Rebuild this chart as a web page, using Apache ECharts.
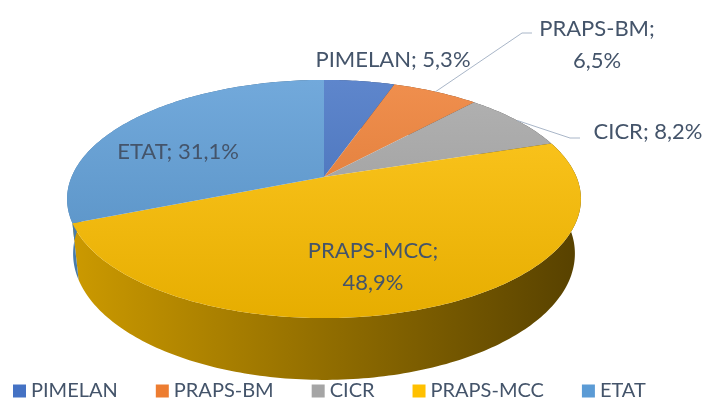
<!DOCTYPE html>
<html>
<head>
<meta charset="utf-8">
<script src="https://cdn.jsdelivr.net/npm/echarts@6/dist/echarts.min.js"></script>
<style>
  html, body { margin: 0; padding: 0; background: #fff; }
  #chart { width: 708px; height: 401px; }
</style>
</head>
<body>
<div id="chart"></div>
<script>
// data
const categories = ['PIMELAN', 'PRAPS-BM', 'CICR', 'PRAPS-MCC', 'ETAT']
const shares = [5.3, 6.5, 8.2, 48.9, 31.1]
const colors = ['#4472C4', '#ED7D31', '#A5A5A5', '#FFC000', '#5B9BD5']

// layout of the 3d pie (perspective camera) and of the labels
const view = { cx: 324, cy: 177, f: 1216, dist: 4.816, tilt: 27.1 * Math.PI / 180, height: 0.245 }
const labelAt = [[393, 60], [597, 45], [648, 132], [373, 267], [178, 152]]
const labelBreak = [false, true, false, true, false]
const elbowAt = [null, [522, 33], [570, 138], null, null]
const textColor = '#44546a'
const font = 'Lato'

const total = shares.reduce((a, b) => a + b, 0)
const startOf = shares.map((v, i) => shares.slice(0, i).reduce((a, b) => a + b, 0))

const project = (phi, r, h) => {
  const s = Math.sin(view.tilt), c = Math.cos(view.tilt)
  const x = r * Math.sin(phi), z = -r * Math.cos(phi)
  const w = view.dist - z * c - h * s
  const v = h * c - z * s
  return [view.cx + view.f * x / w, view.cy - view.f * v / w]
}

const mix = (hex, amt) => {
  const n = parseInt(hex.slice(1), 16)
  const ch = [(n >> 16) & 255, (n >> 8) & 255, n & 255].map(c =>
    Math.round(amt >= 0 ? c + (255 - c) * amt : c * (1 + amt)))
  return 'rgb(' + ch.join(',') + ')'
}

const fmt = v => v.toFixed(1).replace('.', ',') + '%'

const renderSlice = (params, api) => {
  const i = params.seriesIndex
  const value = api.value(0)
  const a0 = startOf[i] / total * Math.PI * 2
  const a1 = a0 + value / total * Math.PI * 2
  const steps = Math.max(2, Math.ceil((a1 - a0) / (Math.PI / 180)))
  const rimTop = [], rimBottom = []
  for (let k = 0; k <= steps; k++) {
    const a = a0 + (a1 - a0) * k / steps
    rimTop.push(project(a, 1, 0))
    rimBottom.push(project(a, 1, -view.height))
  }
  const base = colors[i]
  const children = [
    {
      type: 'polygon',
      z2: 1,
      shape: { points: rimTop.concat(rimBottom.slice().reverse()) },
      style: {
        fill: new echarts.graphic.LinearGradient(70, 0, 580, 0, [
          { offset: 0, color: mix(base, -0.2) },
          { offset: 1, color: mix(base, -0.66) }
        ], true)
      }
    },
    {
      type: 'polygon',
      z2: 10,
      shape: { points: [project(0, 0, 0)].concat(rimTop) },
      style: {
        fill: new echarts.graphic.LinearGradient(0, 80, 0, 320, [
          { offset: 0, color: mix(base, 0.14) },
          { offset: 1, color: mix(base, -0.1) }
        ], true)
      }
    }
  ]
  const name = categories[i]
  const text = name + ';' + (labelBreak[i] ? '\n' : ' ') + fmt(value)
  const [lx, ly] = labelAt[i]
  if (elbowAt[i]) {
    const mid = project((a0 + a1) / 2, 1, 0)
    const [ex, ey] = elbowAt[i]
    children.push({
      type: 'polyline',
      z2: 20,
      shape: { points: [mid, [ex, ey], [ex + 10, ey]] },
      style: { stroke: '#a9b6c8', lineWidth: 1, fill: null }
    })
  }
  children.push({
    type: 'text',
    z2: 30,
    style: {
      text: text,
      x: lx,
      y: ly,
      fill: textColor,
      fontFamily: font,
      fontSize: 22,
      lineHeight: 32,
      align: 'center',
      verticalAlign: 'middle'
    }
  })
  return { type: 'group', children: children }
}

const chart = echarts.init(document.getElementById('chart'))
chart.setOption({
  animation: false,
  backgroundColor: '#fff',
  legend: {
    data: categories,
    left: 13,
    top: 381,
    padding: 0,
    icon: 'rect',
    itemWidth: 13,
    itemHeight: 13,
    itemGap: 38,
    textStyle: { fontFamily: font, fontSize: 20, color: textColor }
  },
  series: categories.map((name, i) => ({
    name: name,
    type: 'custom',
    coordinateSystem: 'none',
    silent: true,
    itemStyle: { color: colors[i] },
    data: [shares[i]],
    renderItem: renderSlice
  }))
})
</script>
</body>
</html>
